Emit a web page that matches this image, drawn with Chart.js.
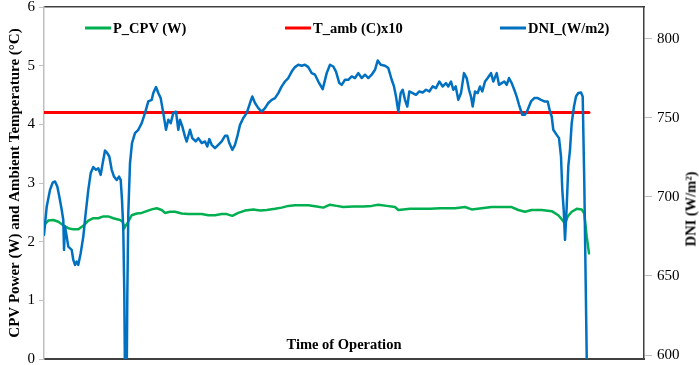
<!DOCTYPE html>
<html>
<head>
<meta charset="utf-8">
<script src="https://cdn.jsdelivr.net/npm/chart.js@4.4.1/dist/chart.umd.min.js"></script>
<style>
    body { margin: 0; background: #fff; }
    #wrap { position: relative; width: 699px; height: 365px; }
    #legend .item { position: absolute; top: 28px; transform: translateY(-50%); display: flex; align-items: center; white-space: nowrap;
        font: bold 14.5px 'Liberation Serif', 'Times New Roman', serif; color: #000; }
    #legend .swatch { display: inline-block; width: 26px; height: 3px; margin-right: 2px; }
    #dniTitle { position: absolute; left: 691px; top: 209px; transform: translate(-50%, -50%) rotate(-90deg); white-space: nowrap;
        font: bold 14.5px 'Liberation Serif', 'Times New Roman', serif; color: #000; }
</style>
</head>
<body>
<div id="wrap">
    <canvas id="chart" width="699" height="365"></canvas>
    <div id="legend"></div>
    <div id="dniTitle">DNI (W/m²)</div>
</div>
<script>
// time of operation (arbitrary units along the x axis)
const dniTime = [0, 2.7, 6, 8.7, 11, 13.3, 15.3, 17.7, 19.3, 20, 21, 22.7, 24.3, 27.7, 29.3, 31, 32.7, 34.3, 36.7, 39.3,
    41.7, 44.3, 46.7, 49.3, 52, 54.3, 56.7, 58.7, 61, 63.3, 65.3, 67.7, 70, 72.7, 75, 76.7, 78, 79.3, 80.3, 81,
    82.7, 83.3, 84.3, 86, 88, 91, 94.3, 97.7, 101, 104.3, 107.7, 109.3, 112, 114.3, 116.7, 119.3, 122, 124.3, 126.7, 129.3,
    132, 134.3, 136, 138.3, 141, 142.7, 146, 148.3, 151.7, 154.3, 157.7, 161, 163.3, 165.3, 167.7, 171, 174.3, 177.7, 181, 183.3,
    185.3, 188.3, 191, 193.7, 196, 199.3, 202.7, 206, 208.3, 211, 214.3, 217.7, 221, 224.3, 227.7, 231, 234.3, 237.7, 241, 244.3,
    247.7, 251, 254.3, 257.7, 261, 264.3, 267.7, 271, 274.3, 278.7, 282.7, 286, 289.3, 292, 295.3, 297.7, 301, 304.3, 307.7, 311,
    314.3, 317.7, 321, 324.3, 327.7, 331, 333.7, 336.7, 341, 344.3, 347.7, 350, 352, 354.3, 356.7, 358.7, 361, 363.3, 365.3, 368.7,
    372, 375.3, 378.7, 382, 385.3, 388.7, 392, 395.3, 398.7, 402, 404.3, 407, 409.3, 411.7, 414.3, 417, 420, 422.7, 425, 427,
    428.7, 431, 433.7, 436, 438.3, 441, 443.7, 447, 449.3, 452.7, 455, 457.7, 460.3, 462.7, 465, 467.7, 470.3, 472.7, 475, 478.3,
    481, 483.7, 487, 490.3, 493.7, 497, 500.3, 503.7, 506, 507.7, 509.3, 512.7, 515, 517, 518.3, 519.7, 521, 522.7, 524.3, 526,
    527.7, 530, 532, 534.3, 537, 538.7, 540.3, 541.7, 543];
const dniValues = [675.9, 693.8, 704.4, 709.0, 709.7, 706.5, 700.2, 691.8, 685.4, 666.5, 681.2, 674.9, 668.5, 666.5, 660.1, 657.0, 659.1, 657.0, 664.4, 674.9,
    689.7, 704.4, 715.0, 718.8, 717.1, 718.1, 713.9, 721.3, 729.3, 727.6, 725.5, 717.1, 712.8, 710.7, 712.8, 710.7, 698.1, 679.1, 639.1, 585,
    585, 636.9, 689.7, 721.3, 734.0, 740.3, 742.4, 746.6, 752.9, 760.3, 761.3, 765.6, 769.4, 765.6, 762.4, 752.9, 742.4, 748.7, 746.6, 752.9,
    753.8, 742.4, 748.7, 744.5, 738.1, 735.0, 742.4, 737.1, 735.0, 737.1, 734.0, 735.0, 731.8, 736.5, 732.9, 730.8, 732.9, 735.0, 738.6, 738.6,
    734.0, 729.7, 732.9, 739.2, 745.5, 749.8, 752.9, 759.3, 763.4, 759.3, 756.1, 753.9, 756.1, 759.3, 761.3, 762.4, 765.6, 769.8, 772.9, 775.1,
    779.2, 782.0, 783.5, 782.9, 783.5, 782.0, 778.2, 777.2, 772.9, 768.1, 778.2, 783.5, 782.4, 779.2, 771.9, 770.8, 774.0, 774.0, 776.1, 775.1,
    778.2, 775.1, 777.2, 775.1, 777.2, 780.3, 786.2, 783.5, 782.9, 781.4, 774.0, 769.8, 763.4, 753.9, 765.6, 767.7, 761.3, 757.1, 766.6, 765.6,
    764.5, 766.6, 766.0, 767.7, 766.6, 769.8, 768.7, 772.9, 769.8, 771.9, 769.8, 772.9, 767.7, 769.8, 761.3, 765.6, 778.2, 775.1, 767.7, 763.4,
    757.1, 766.6, 765.6, 769.8, 766.6, 772.9, 775.1, 778.2, 772.9, 778.2, 770.8, 771.9, 772.9, 770.8, 775.1, 771.9, 767.7, 763.4, 758.2, 751.9,
    751.9, 755.0, 760.3, 762.4, 762.4, 761.3, 760.3, 760.3, 753.9, 750.8, 742.4, 739.2, 737.1, 725.5, 704.4, 691.8, 672.8, 693.8, 719.2, 729.7,
    746.6, 757.1, 763.4, 765.6, 766.0, 763.4, 708.6, 645.4, 585];

const pcpvTime = [0, 4.3, 9.3, 14.3, 19.3, 24.3, 29.3, 34.3, 39.3, 44.3, 49.3, 54.3, 59.3, 64.3, 69.3, 76, 78.7, 80.3, 81.5, 83.3,
    87.7, 92.7, 97.7, 102.7, 107.7, 112.7, 117.7, 121, 126, 131, 137.7, 144.3, 151, 157.7, 164.3, 171, 177.7, 182.7, 188.3, 194.3,
    201, 209.3, 216, 222.7, 231, 237.7, 244.3, 251, 257.7, 264.3, 272.7, 279.3, 286, 292.7, 299.3, 309.3, 319.3, 327.7, 334.3, 342.7,
    351, 354.3, 359.3, 366, 376, 386, 396, 405.3, 411, 421, 427.7, 437.7, 447.7, 457.7, 467.7, 474.3, 481, 487.7, 497.7, 507.7,
    514.3, 518.3, 521, 523.7, 527.7, 532.7, 537.7, 540.3, 542.7, 545];
const pcpvValues = [2.28, 2.36, 2.37, 2.34, 2.28, 2.23, 2.21, 2.21, 2.27, 2.36, 2.40, 2.40, 2.43, 2.43, 2.40, 2.37, 2.34, 2.23, 2.27, 2.31,
    2.45, 2.48, 2.49, 2.52, 2.55, 2.57, 2.54, 2.49, 2.51, 2.51, 2.48, 2.47, 2.47, 2.47, 2.45, 2.45, 2.47, 2.47, 2.44, 2.49,
    2.53, 2.55, 2.53, 2.54, 2.56, 2.58, 2.61, 2.62, 2.62, 2.62, 2.60, 2.58, 2.63, 2.61, 2.59, 2.60, 2.60, 2.61, 2.63, 2.61,
    2.59, 2.54, 2.55, 2.56, 2.56, 2.56, 2.57, 2.57, 2.57, 2.59, 2.55, 2.57, 2.59, 2.59, 2.59, 2.54, 2.51, 2.54, 2.54, 2.52,
    2.45, 2.37, 2.31, 2.43, 2.51, 2.56, 2.55, 2.48, 2.09, 1.80];

const tambTime = [0, 545];
const tambValues = [4.2, 4.2];

const powerTicks = [0, 1, 2, 3, 4, 5, 6];
const dniTicks = [600, 650, 700, 750, 800];

const seriesLabels = ['P_CPV (W)', 'T_amb (C)x10', 'DNI_(W/m2)'];
const seriesColors = ['#00B050', '#FF0000', '#0070C0'];
const legendLeft = [85, 285, 500];

const toPoints = (xs, ys) => xs.map((x, i) => ({ x: x, y: ys[i] }));

Chart.defaults.font.family = "'Liberation Serif', 'Times New Roman', serif";
Chart.defaults.color = '#000';

const serif = "'Liberation Serif', 'Times New Roman', serif";

// fixed axis widths, and no extra room for the end labels
const fitAxis = width => axis => {
    axis.width = width;
    axis.paddingTop = 0;
    axis.paddingBottom = 0;
};

const chart = new Chart(document.getElementById('chart'), {
    type: 'line',
    data: {
        datasets: [
            {
                label: seriesLabels[0],
                data: toPoints(pcpvTime, pcpvValues),
                borderColor: seriesColors[0],
                borderWidth: 2.5,
                yAxisID: 'y',
                order: 2
            },
            {
                label: seriesLabels[1],
                data: toPoints(tambTime, tambValues),
                borderColor: seriesColors[1],
                borderWidth: 3,
                yAxisID: 'y',
                order: 1
            },
            {
                label: seriesLabels[2],
                data: toPoints(dniTime, dniValues),
                borderColor: seriesColors[2],
                borderWidth: 2.5,
                yAxisID: 'y1',
                order: 0
            }
        ]
    },
    options: {
        responsive: false,
        animation: false,
        devicePixelRatio: 1,
        layout: { padding: { top: 7, left: 0, right: 0, bottom: 0 } },
        elements: {
            point: { radius: 0 },
            line: { tension: 0, borderJoinStyle: 'round', borderCapStyle: 'round' }
        },
        plugins: {
            legend: { display: false },
            tooltip: { enabled: false }
        },
        scales: {
            x: {
                type: 'linear',
                position: 'bottom',
                min: 0,
                max: 600,
                ticks: { display: false },
                grid: { drawOnChartArea: false, drawTicks: false },
                border: { color: '#404040', width: 2 },
                title: {
                    display: true,
                    text: 'Time of Operation',
                    font: { size: 14.5, weight: 'bold', family: serif },
                    color: '#000',
                    padding: { top: -22.7, bottom: 11.3 }
                }
            },
            xTop: {
                type: 'linear',
                position: 'top',
                min: 0,
                max: 1,
                ticks: { display: false },
                grid: { drawOnChartArea: false, drawTicks: false },
                border: { color: '#404040', width: 1.5 }
            },
            y: {
                position: 'left',
                min: 0,
                max: 6,
                afterBuildTicks: axis => { axis.ticks = powerTicks.map(v => ({ value: v })); },
                afterFit: fitAxis(44),
                ticks: { font: { size: 15, family: serif }, color: '#000', padding: 4 },
                grid: { drawOnChartArea: false, tickLength: 5, color: '#bfbfbf' },
                border: { color: '#bfbfbf', width: 1.5 },
                title: {
                    display: true,
                    text: 'CPV Power (W) and Ambient Temperature (°C)',
                    font: { size: 15, weight: 'bold', family: serif },
                    color: '#000',
                    padding: { top: 6, bottom: 0 }
                }
            },
            y1: {
                position: 'right',
                min: 597.5,
                max: 820,
                afterBuildTicks: axis => { axis.ticks = dniTicks.map(v => ({ value: v })); },
                afterFit: fitAxis(55),
                ticks: { font: { size: 15, family: serif }, color: '#000', padding: 5 },
                grid: { drawOnChartArea: false, tickLength: 8, color: '#bfbfbf' },
                border: { color: '#404040', width: 1.5 }
            }
        }
    }
});

// html legend built from the chart's datasets
const legendBox = document.getElementById('legend');
chart.data.datasets.forEach((ds, i) => {
    const item = document.createElement('div');
    item.className = 'item';
    item.style.left = legendLeft[i] + 'px';
    const swatch = document.createElement('span');
    swatch.className = 'swatch';
    swatch.style.background = ds.borderColor;
    const text = document.createElement('span');
    text.textContent = ds.label;
    item.appendChild(swatch);
    item.appendChild(text);
    legendBox.appendChild(item);
});
</script>
</body>
</html>
